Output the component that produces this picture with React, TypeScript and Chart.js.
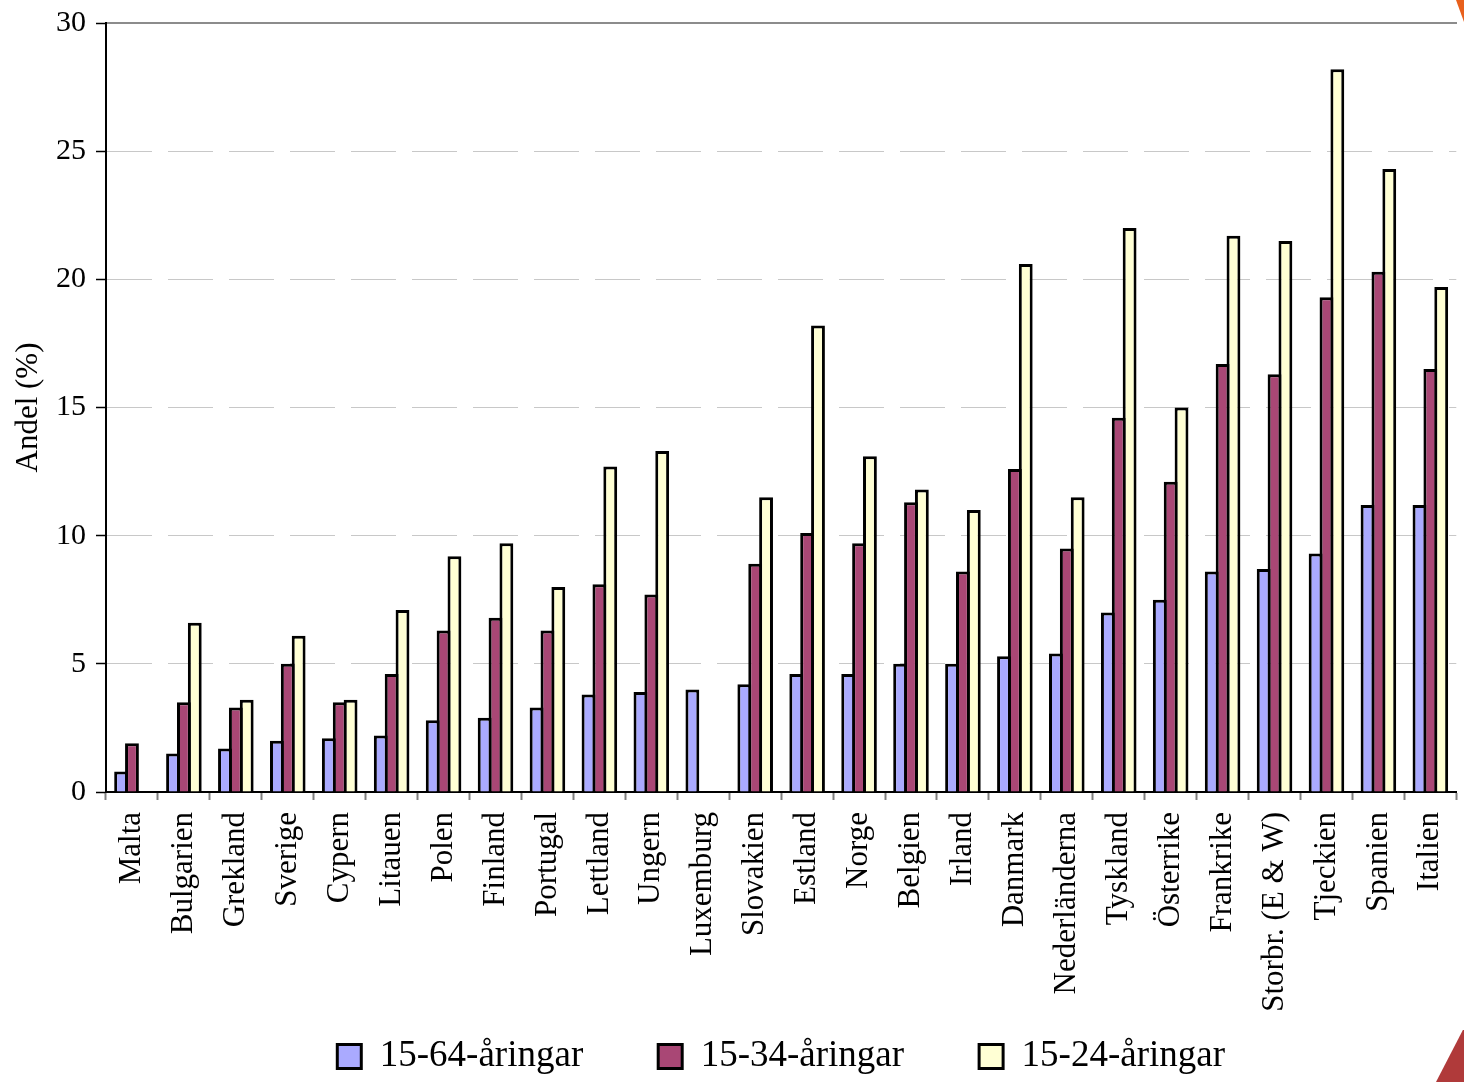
import React, { useEffect, useRef } from "react";
import { Chart, registerables } from "chart.js";

Chart.register(...registerables);

const categories = [
  "Malta", "Bulgarien", "Grekland", "Sverige", "Cypern", "Litauen", "Polen",
  "Finland", "Portugal", "Lettland", "Ungern", "Luxemburg", "Slovakien",
  "Estland", "Norge", "Belgien", "Irland", "Danmark", "Nederländerna",
  "Tyskland", "Österrike", "Frankrike", "Storbr. (E & W)", "Tjeckien",
  "Spanien", "Italien",
];
const seriesLabels = ["15-64-åringar", "15-34-åringar", "15-24-åringar"];
const age15to64 = [0.8, 1.5, 1.7, 2.0, 2.1, 2.2, 2.8, 2.9, 3.3, 3.8, 3.9, 4.0, 4.2, 4.6, 4.6, 5.0, 5.0, 5.3, 5.4, 7.0, 7.5, 8.6, 8.7, 9.3, 11.2, 11.2];
const age15to34 = [1.9, 3.5, 3.3, 5.0, 3.5, 4.6, 6.3, 6.8, 6.3, 8.1, 7.7, null, 8.9, 10.1, 9.7, 11.3, 8.6, 12.6, 9.5, 14.6, 12.1, 16.7, 16.3, 19.3, 20.3, 16.5];
const age15to24 = [null, 6.6, 3.6, 6.1, 3.6, 7.1, 9.2, 9.7, 8.0, 12.7, 13.3, null, 11.5, 18.2, 13.1, 11.8, 11.0, 20.6, 11.5, 22.0, 15.0, 21.7, 21.5, 28.2, 24.3, 19.7];
const yMin = 0;
const yMax = 30;
const yStep = 5;
const yTitle = "Andel (%)";

const FONT = "'Liberation Serif', 'Times New Roman', serif";
const CW = 1480;
const CH = 1085;
const LEGEND_FONT = 37;
const LEGEND_PAD = 75;
const LEGEND_H = LEGEND_FONT + LEGEND_PAD + 10;
const PLOT_TOP = 23;
const PLOT_BOTTOM = 792;

const extendLabelArea = {
  id: "extendLabelArea",
  afterLayout(chart: any) {
    const x = chart.scales.x;
    if (x) x.bottom = chart.height;
  },
};

export default function App() {
  const ref = useRef<HTMLCanvasElement | null>(null);

  useEffect(() => {
    if (!ref.current) return;
    const chart = new Chart(ref.current, {
      type: "bar",
      data: {
        labels: categories,
        datasets: [
          { label: seriesLabels[0], data: age15to64, backgroundColor: "#AAAAFF", borderColor: "#000000", borderWidth: 3 },
          { label: seriesLabels[1], data: age15to34, backgroundColor: "#A94775", borderColor: "#000000", borderWidth: 3 },
          { label: seriesLabels[2], data: age15to24, backgroundColor: "#FFFFD4", borderColor: "#000000", borderWidth: 3 },
        ],
      },
      plugins: [extendLabelArea],
      options: {
        responsive: false,
        animation: false,
        devicePixelRatio: 1,
        layout: { padding: { top: 0, right: CW - 1473, left: 0, bottom: 0 } },
        datasets: { bar: { barPercentage: 14 / 11, categoryPercentage: 0.628 } },
        plugins: {
          tooltip: { enabled: false },
          legend: {
            position: "bottom",
            fullSize: false,
            labels: {
              font: { family: FONT, size: LEGEND_FONT },
              color: "#000",
              boxWidth: 24,
              boxHeight: 24,
              padding: LEGEND_PAD,
            },
          },
        },
        scales: {
          x: {
            position: "bottom",
            afterFit: (s: any) => { s.height = CH - LEGEND_H - PLOT_BOTTOM; },
            grid: {
              display: true,
              drawOnChartArea: false,
              drawTicks: true,
              tickLength: 8,
              tickColor: "#808080",
              tickWidth: 2,
            },
            border: { display: true, color: "#000", width: 2 },
            ticks: {
              font: { family: FONT, size: 31 },
              color: "#000",
              minRotation: 90,
              maxRotation: 90,
              autoSkip: false,
              padding: 12,
            },
          },
          xTop: {
            type: "category",
            position: "top",
            labels: categories,
            afterFit: (s: any) => { s.height = PLOT_TOP; },
            grid: { display: false, drawTicks: false },
            ticks: { display: false },
            border: { display: true, color: "#8c8c8c", width: 2 },
          },
          y: {
            min: yMin,
            max: yMax,
            afterFit: (s: any) => { s.width = 106; s.paddingTop = 0; s.paddingBottom = 0; },
            ticks: {
              stepSize: yStep,
              font: { family: FONT, size: 30 },
              color: "#000",
              padding: 10,
            },
            grid: {
              color: "#c8c8c8",
              lineWidth: 1,
              drawTicks: true,
              tickLength: 10,
              tickColor: "#000",
              tickWidth: 1.5,
              tickBorderDash: [],
            },
            border: { display: true, color: "#000", width: 2, dash: [45, 16] },
            title: {
              display: true,
              text: yTitle,
              font: { family: FONT, size: 31 },
              color: "#000",
              padding: { top: 10, bottom: 0 },
            },
          },
        },
      } as any,
    });
    return () => chart.destroy();
  }, []);

  return (
    <div style={{ position: "fixed", left: 0, top: 0, width: 1464, height: 1082, overflow: "hidden", background: "#fff" }}>
      <canvas ref={ref} width={CW} height={CH} style={{ width: CW, height: CH, display: "block" }} />
      <div style={{ position: "absolute", left: 1454, top: 0, width: 10, height: 22, background: "#E8601C", clipPath: "polygon(20% 0, 100% 0, 100% 100%)" }} />
      <div style={{ position: "absolute", left: 1436, top: 1030, width: 28, height: 52, background: "#B03A3A", clipPath: "polygon(96% 0, 100% 0, 100% 100%, 0 100%)" }} />
    </div>
  );
}
